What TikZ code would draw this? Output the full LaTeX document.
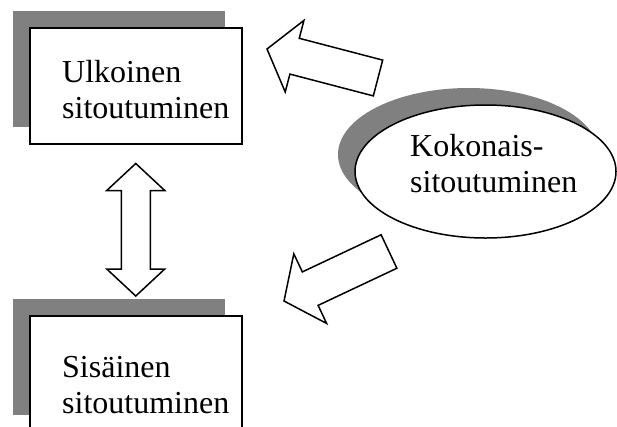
\documentclass[tikz,border=0pt]{standalone}
\usepackage{fontspec}
\setmainfont{Liberation Serif}
\usetikzlibrary{positioning,calc,shapes.geometric,shadows}

\definecolor{shadowgray}{RGB}{128,128,128}

\tikzset{
    grayshadow/.style={drop shadow={shadow xshift=-17pt, shadow yshift=17pt, opacity=1, fill=shadowgray}},
    box/.style={draw, line width=1.5pt, fill=white, minimum width=212pt, minimum height=116pt, inner sep=0pt, anchor=north west, grayshadow},
    oval/.style={ellipse, draw, line width=1.5pt, fill=white, minimum width=261pt, minimum height=133pt, inner sep=0pt, grayshadow},
    lbl/.style={align=left, anchor=base west, inner sep=0pt, font=\fontsize{32}{36}\selectfont},
    bigarrow/.style={draw, line width=1.5pt, fill=white, line join=miter},
}

% block arrow: tail, tip, half shaft, half head, head length
\newcommand{\blockarrow}[5]{%
    \coordinate (hb) at ($(#2)!#5!(#1)$);
    \path[bigarrow] ($(#1)!#3!90:(#2)$) -- ($(hb)!#3!90:(#2)$) -- ($(hb)!#4!90:(#2)$) -- (#2)
        -- ($(hb)!#4!-90:(#2)$) -- ($(hb)!#3!-90:(#2)$) -- ($(#1)!#3!-90:(#2)$) -- cycle;
}

\begin{document}
\begin{tikzpicture}[x=1pt, y=-1pt]

    \useasboundingbox (0,0) rectangle (617,426);
    \clip (0,0) rectangle (617,426);

    % the three shapes
    \node[box] (ulko) at (29,27) {};
    \node[box] (sisa) at (29,315) {};
    \node[oval] (koko) at (485.5,171.5) {};

    % texts (base = last line)
    \node[lbl] (ulkoTxt) at (62,118) {Ulkoinen\\sitoutuminen};
    \node[lbl] (sisaTxt) at (62,413) {Sisäinen\\sitoutuminen};
    \node[lbl] (kokoTxt) at (410,192) {Kokonais-\\sitoutuminen};

    % arrows out of the oval
    \coordinate (upTail) at (378,78);
    \coordinate (upTip) at (267,49);
    \blockarrow{upTail}{upTip}{18.5pt}{37pt}{28.5pt}

    \coordinate (lowTail) at (389,251.5);
    \coordinate (lowTip) at (284,301);
    \blockarrow{lowTail}{lowTip}{18.5pt}{38.5pt}{29pt}

    % double arrow between the boxes
    \coordinate (dtop) at ($(ulko.south)+(0,19)$);
    \coordinate (dbot) at ($(sisa.north)+(0,-19)$);
    \path[bigarrow] (dtop) -- ++(29,27) -- ++(-14.5,0) -- ($(dbot)+(14.5,-27)$) -- ++(14.5,0) -- (dbot)
        -- ++(-29,-27) -- ++(14.5,0) -- ($(dtop)+(-14.5,27)$) -- ++(-14.5,0) -- cycle;

\end{tikzpicture}
\end{document}
